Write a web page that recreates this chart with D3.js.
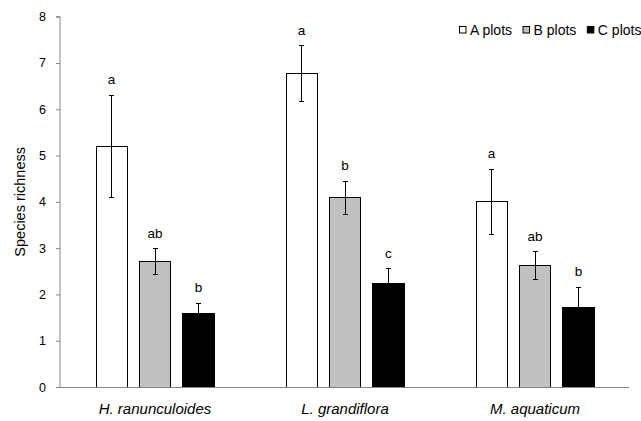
<!DOCTYPE html>
<html>
<head>
<meta charset="utf-8">
<script src="https://cdn.jsdelivr.net/npm/d3@7"></script>
<style>
  html, body { margin: 0; padding: 0; background: #fff; }
  svg { display: block; font-family: "Liberation Sans", Arial, sans-serif; }
</style>
</head>
<body>
<svg id="chart" width="641" height="421"></svg>
<script>
// Species richness per plant species and plot type (mean ± SE)
const species = ["H. ranunculoides", "L. grandiflora", "M. aquaticum"];
const plotTypes = ["A plots", "B plots", "C plots"];
const meanA = [5.2, 6.77, 4.0];
const meanB = [2.71, 4.09, 2.62];
const meanC = [1.59, 2.23, 1.71];
const errA = [1.1, 0.6, 0.7];
const errB = [0.28, 0.36, 0.3];
const errC = [0.22, 0.32, 0.44];
const lettersA = ["a", "a", "a"];
const lettersB = ["ab", "b", "ab"];
const lettersC = ["b", "c", "b"];
const yTicks = [0, 1, 2, 3, 4, 5, 6, 7, 8];

const means = [meanA, meanB, meanC];
const errs = [errA, errB, errC];
const letters = [lettersA, lettersB, lettersC];
const fills = ["#ffffff", "#c0c0c0", "#000000"];

const rows = [];
species.forEach((sp, i) => {
  plotTypes.forEach((pt, j) => {
    rows.push({ sp, pt, v: means[j][i], e: errs[j][i], letter: letters[j][i], fill: fills[j] });
  });
});

const svg = d3.select("#chart");
const plotLeft = 60, plotRight = 630, plotTop = 16.7, plotBottom = 387;

const y = d3.scaleLinear().domain([0, 8]).range([plotBottom, plotTop]);
const x0 = d3.scaleBand().domain(species).range([plotLeft, plotRight]).padding(0);
const x1 = d3.scaleBand().domain(plotTypes).range([36, 154]).paddingInner(0.287).paddingOuter(0);
const axisColor = "#868686";

// bars
const g = svg.append("g");
g.selectAll("rect.bar").data(rows).join("rect")
  .attr("class", "bar")
  .attr("x", d => x0(d.sp) + x1(d.pt))
  .attr("y", d => y(d.v))
  .attr("width", x1.bandwidth())
  .attr("height", d => y(0) - y(d.v))
  .attr("fill", d => d.fill)
  .attr("stroke", "#000")
  .attr("stroke-width", 1)
  .attr("shape-rendering", "crispEdges");

// error bars
const cx = d => x0(d.sp) + x1(d.pt) + x1.bandwidth() / 2;
const eg = g.append("g").attr("stroke", "#000").attr("stroke-width", 1).attr("shape-rendering", "crispEdges");
eg.selectAll("line.v").data(rows).join("line")
  .attr("x1", cx).attr("x2", cx)
  .attr("y1", d => y(d.v + d.e)).attr("y2", d => y(d.v - d.e));
eg.selectAll("line.top").data(rows).join("line")
  .attr("x1", d => cx(d) - 2.5).attr("x2", d => cx(d) + 2.5)
  .attr("y1", d => y(d.v + d.e)).attr("y2", d => y(d.v + d.e));
eg.selectAll("line.bot").data(rows).join("line")
  .attr("x1", d => cx(d) - 2.5).attr("x2", d => cx(d) + 2.5)
  .attr("y1", d => y(d.v - d.e)).attr("y2", d => y(d.v - d.e));

// significance letters
g.selectAll("text.letter").data(rows).join("text")
  .attr("class", "letter")
  .attr("x", cx)
  .attr("y", d => y(d.v + d.e) - 11)
  .attr("text-anchor", "middle")
  .attr("font-size", 13.5)
  .attr("fill", "#000")
  .text(d => d.letter);

// y axis
const yAxis = svg.append("g")
  .attr("transform", `translate(${plotLeft},0)`)
  .call(d3.axisLeft(y).tickValues(yTicks).tickSize(4).tickSizeOuter(4).tickPadding(10));
yAxis.select(".domain").attr("stroke", axisColor).attr("d", `M-4,${y(8)}H0V${y(0)}`);
yAxis.selectAll(".tick line").attr("stroke", axisColor);
yAxis.selectAll(".tick text").attr("font-size", 12.5).attr("fill", "#000").attr("font-family", "Liberation Sans, Arial, sans-serif");

// x axis baseline and category labels
svg.append("line")
  .attr("x1", plotLeft).attr("x2", plotRight - 1)
  .attr("y1", y(0)).attr("y2", y(0))
  .attr("stroke", axisColor).attr("shape-rendering", "crispEdges");
svg.append("g").selectAll("text").data(species).join("text")
  .attr("x", d => x0(d) + x0.bandwidth() / 2)
  .attr("y", y(0) + 27)
  .attr("text-anchor", "middle")
  .attr("font-size", 15)
  .attr("font-style", "italic")
  .text(d => d);

// y axis title
svg.append("text")
  .attr("transform", `translate(25,${(plotTop + plotBottom) / 2}) rotate(-90)`)
  .attr("text-anchor", "middle")
  .attr("font-size", 14.5)
  .text("Species richness");

// legend
const lg = svg.append("g");
let lx = 459;
plotTypes.forEach((pt, j) => {
  lg.append("rect")
    .attr("x", lx + 0.5).attr("y", 26.5)
    .attr("width", 6.5).attr("height", 6.5)
    .attr("fill", fills[j]).attr("stroke", "#000").attr("stroke-width", 1);
  const t = lg.append("text")
    .attr("x", lx + 11).attr("y", 35)
    .attr("font-size", 14)
    .text(pt);
  lx += 11 + t.node().getComputedTextLength() + 10.5;
});
</script>
</body>
</html>
